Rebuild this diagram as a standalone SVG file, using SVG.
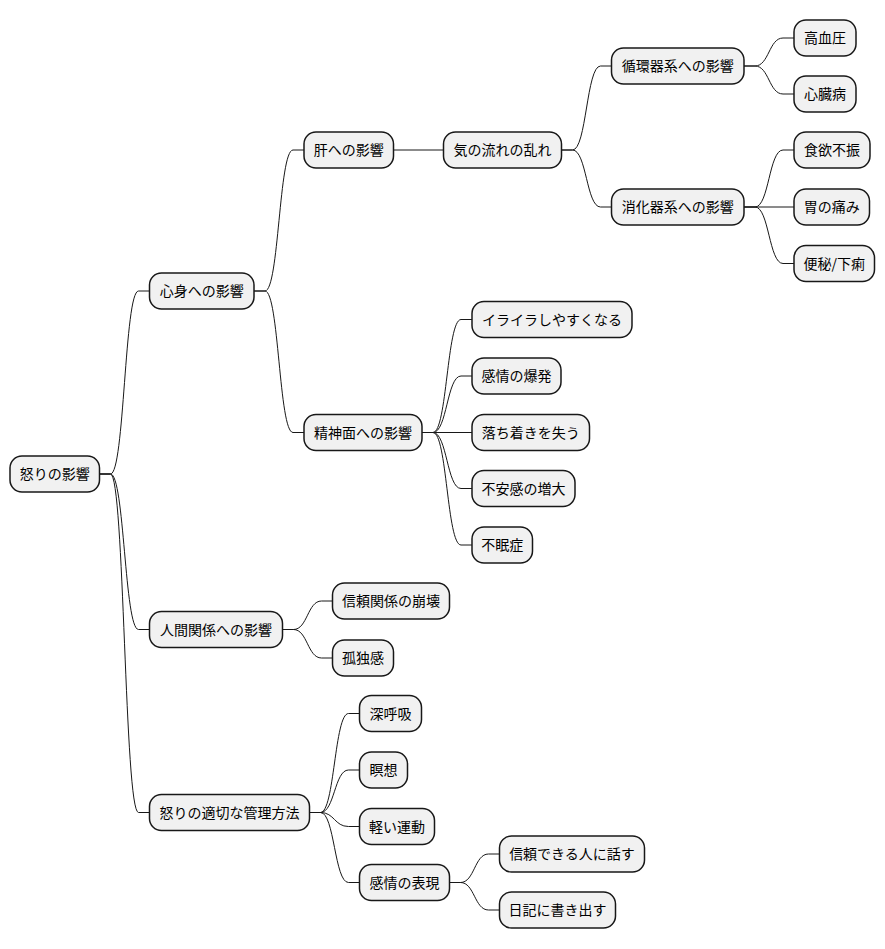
<svg xmlns="http://www.w3.org/2000/svg" width="885" height="949" viewBox="0 0 885 949">
<style>
.n rect{fill:#F1F1F1;stroke:#181818;stroke-width:1.5}
.n text{font-family:"Noto Sans CJK JP","Noto Sans",sans-serif;font-size:14px;fill:#000;text-anchor:middle}
#edges path{fill:none;stroke:#181818;stroke-width:1}
</style>
<rect width="885" height="949" fill="#FFFFFF"/>
<g id="edges">
<path d="M99.5 474 H110.5 C124.5 474 124.5 291 138.5 291 H149.5"/>
<path d="M99.5 474 H110.5 C124.5 474 124.5 629.5 138.5 629.5 H149.5"/>
<path d="M99.5 474 H110.5 C124.5 474 124.5 812.5 138.5 812.5 H149.5"/>
<path d="M254 291 H265 C279 291 279 150 293 150 H304"/>
<path d="M254 291 H265 C279 291 279 432.5 293 432.5 H304"/>
<path d="M393.5 150 H443.5"/>
<path d="M561.5 150 H572.5 C586.5 150 586.5 66 600.5 66 H611.5"/>
<path d="M561.5 150 H572.5 C586.5 150 586.5 207 600.5 207 H611.5"/>
<path d="M744 66 H755 C769 66 769 38 783 38 H794"/>
<path d="M744 66 H755 C769 66 769 94 783 94 H794"/>
<path d="M744 207 H755 C769 207 769 150 783 150 H794"/>
<path d="M744 207 H794"/>
<path d="M744 207 H755 C769 207 769 263.5 783 263.5 H794"/>
<path d="M422 432.5 H433 C447 432.5 447 319.5 461 319.5 H472"/>
<path d="M422 432.5 H433 C447 432.5 447 376 461 376 H472"/>
<path d="M422 432.5 H472"/>
<path d="M422 432.5 H433 C447 432.5 447 488.5 461 488.5 H472"/>
<path d="M422 432.5 H433 C447 432.5 447 545 461 545 H472"/>
<path d="M282.5 629.5 H293.5 C307.5 629.5 307.5 601 321.5 601 H332.5"/>
<path d="M282.5 629.5 H293.5 C307.5 629.5 307.5 658 321.5 658 H332.5"/>
<path d="M309.5 812.5 H320.5 C334.5 812.5 334.5 713.5 348.5 713.5 H359.5"/>
<path d="M309.5 812.5 H320.5 C334.5 812.5 334.5 770 348.5 770 H359.5"/>
<path d="M309.5 812.5 H320.5 C334.5 812.5 334.5 826.5 348.5 826.5 H359.5"/>
<path d="M309.5 812.5 H320.5 C334.5 812.5 334.5 882.5 348.5 882.5 H359.5"/>
<path d="M449.5 882.5 H460.5 C474.5 882.5 474.5 854 488.5 854 H499.5"/>
<path d="M449.5 882.5 H460.5 C474.5 882.5 474.5 910 488.5 910 H499.5"/>
</g>
<g id="n-root" class="n"><rect x="10" y="456" width="89.5" height="36" rx="12"/><text x="54.75" y="479">怒りの影響</text></g>
<g id="n-shinshin" class="n"><rect x="149.5" y="273" width="104.5" height="36" rx="12"/><text x="201.75" y="296">心身への影響</text></g>
<g id="n-ningen" class="n"><rect x="149.5" y="611.5" width="133" height="36" rx="12"/><text x="216" y="634.5">人間関係への影響</text></g>
<g id="n-kanri" class="n"><rect x="149.5" y="794.5" width="160" height="36" rx="12"/><text x="229.5" y="817.5">怒りの適切な管理方法</text></g>
<g id="n-kan" class="n"><rect x="304" y="132" width="89.5" height="36" rx="12"/><text x="348.75" y="155">肝への影響</text></g>
<g id="n-seishin" class="n"><rect x="304" y="414.5" width="118" height="36" rx="12"/><text x="363" y="437.5">精神面への影響</text></g>
<g id="n-ki" class="n"><rect x="443.5" y="132" width="118" height="36" rx="12"/><text x="502.5" y="155">気の流れの乱れ</text></g>
<g id="n-junkan" class="n"><rect x="611.5" y="48" width="132.5" height="36" rx="12"/><text x="677.75" y="71">循環器系への影響</text></g>
<g id="n-shoka" class="n"><rect x="611.5" y="189" width="132.5" height="36" rx="12"/><text x="677.75" y="212">消化器系への影響</text></g>
<g id="n-koketsu" class="n"><rect x="794" y="20" width="62" height="36" rx="12"/><text x="825" y="43">高血圧</text></g>
<g id="n-shinzo" class="n"><rect x="794" y="76" width="62" height="36" rx="12"/><text x="825" y="99">心臓病</text></g>
<g id="n-shokuyoku" class="n"><rect x="794" y="132" width="76" height="36" rx="12"/><text x="832" y="155">食欲不振</text></g>
<g id="n-i" class="n"><rect x="794" y="189" width="75.5" height="36" rx="12"/><text x="831.75" y="212">胃の痛み</text></g>
<g id="n-benpi" class="n"><rect x="794" y="245.5" width="80.5" height="36" rx="12"/><text x="834.25" y="268.5">便秘/下痢</text></g>
<g id="n-iraira" class="n"><rect x="472" y="301.5" width="160" height="36" rx="12"/><text x="552" y="324.5">イライラしやすくなる</text></g>
<g id="n-bakuhatsu" class="n"><rect x="472" y="358" width="89" height="36" rx="12"/><text x="516.5" y="381">感情の爆発</text></g>
<g id="n-ochitsuki" class="n"><rect x="472" y="414.5" width="117.5" height="36" rx="12"/><text x="530.75" y="437.5">落ち着きを失う</text></g>
<g id="n-fuan" class="n"><rect x="472" y="470.5" width="103" height="36" rx="12"/><text x="523.5" y="493.5">不安感の増大</text></g>
<g id="n-fumin" class="n"><rect x="472" y="527" width="60.5" height="36" rx="12"/><text x="502.25" y="550">不眠症</text></g>
<g id="n-shinrai" class="n"><rect x="332.5" y="583" width="117" height="36" rx="12"/><text x="391" y="606">信頼関係の崩壊</text></g>
<g id="n-kodoku" class="n"><rect x="332.5" y="640" width="61" height="36" rx="12"/><text x="363" y="663">孤独感</text></g>
<g id="n-shinkokyu" class="n"><rect x="359.5" y="695.5" width="62" height="36" rx="12"/><text x="390.5" y="718.5">深呼吸</text></g>
<g id="n-meiso" class="n"><rect x="359.5" y="752" width="48" height="36" rx="12"/><text x="383.5" y="775">瞑想</text></g>
<g id="n-undo" class="n"><rect x="359.5" y="808.5" width="75" height="36" rx="12"/><text x="397" y="831.5">軽い運動</text></g>
<g id="n-hyogen" class="n"><rect x="359.5" y="864.5" width="90" height="36" rx="12"/><text x="404.5" y="887.5">感情の表現</text></g>
<g id="n-hanasu" class="n"><rect x="499.5" y="836" width="145" height="36" rx="12"/><text x="572" y="859">信頼できる人に話す</text></g>
<g id="n-nikki" class="n"><rect x="499.5" y="892" width="116" height="36" rx="12"/><text x="557.5" y="915">日記に書き出す</text></g>
</svg>
